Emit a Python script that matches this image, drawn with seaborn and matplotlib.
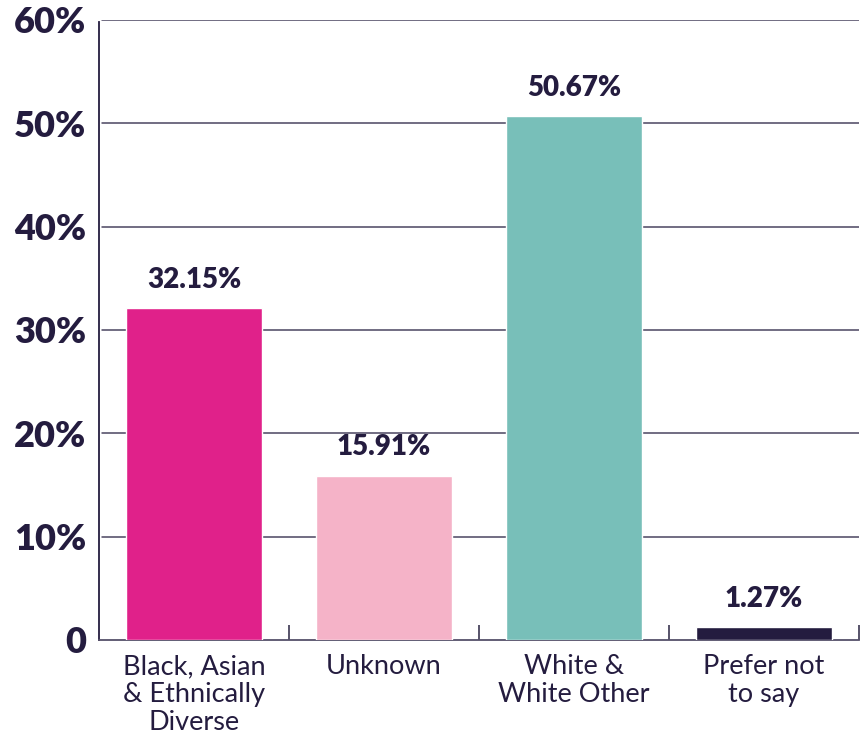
import matplotlib
matplotlib.use("Agg")
import matplotlib.pyplot as plt
import seaborn as sns
import pandas as pd
from matplotlib.ticker import FixedLocator

categories = ["Black, Asian\n& Ethnically\nDiverse", "Unknown", "White &\nWhite Other", "Prefer not\nto say"]
values = [32.15, 15.91, 50.67, 1.27]
colors = ["#E0218A", "#F5B3C8", "#78BFB9", "#241C3F"]
yticks = [0, 10, 20, 30, 40, 50, 60]
ytick_labels = ["0", "10%", "20%", "30%", "40%", "50%", "60%"]

TEXT = "#241C3F"
sns.set_theme(style="white")
plt.rcParams["font.family"] = ["Lato", "DejaVu Sans"]

df = pd.DataFrame({"cat": categories, "val": values})
fig = plt.figure(figsize=(8.63, 7.38), dpi=100)
ax = fig.add_axes([0.1147, 0.1328, 0.9954 - 0.1147, 0.9729 - 0.1328])

sns.barplot(data=df, x="cat", y="val", hue="cat", palette=colors, legend=False,
            width=0.72, saturation=1, ax=ax, zorder=3)

ax.set_xlim(-0.5, 3.5)
ax.set_ylim(0, 60)
ax.set_yticks(yticks)
ax.set_yticklabels(ytick_labels, fontsize=26, fontweight="heavy", color=TEXT)
for y in yticks[1:]:
    ax.axhline(y, xmin=0.004, xmax=1, color="#4A4560", lw=1.1, zorder=1)

ax.set_xticks(range(len(categories)))
ax.set_xticklabels(categories, fontsize=19.5, color=TEXT, linespacing=1.16)
ax.tick_params(axis="x", length=0, pad=10)
ax.tick_params(axis="y", length=0, pad=9)
ax.xaxis.set_minor_locator(FixedLocator([0.5, 1.5, 2.5, 3.5]))
ax.tick_params(axis="x", which="minor", direction="in", length=11, width=1.2, color="#3A3550", bottom=True)

for s in ["top", "right"]:
    ax.spines[s].set_visible(False)
ax.spines["left"].set_color("#241C3F")
ax.spines["left"].set_linewidth(1.3)
ax.spines["left"].set_bounds(0, 59.8)
ax.spines["bottom"].set_color("#55506A")
ax.spines["bottom"].set_linewidth(1.3)

ax.set_xlabel("")
ax.set_ylabel("")

for i, v in enumerate(values):
    ax.annotate(f"{v:.2f}%", (i, v), xytext=(0, 11), textcoords="offset points",
                ha="center", va="bottom", fontsize=20, fontweight="heavy", color=TEXT)

fig.savefig("out.png", dpi=100, facecolor="white")
